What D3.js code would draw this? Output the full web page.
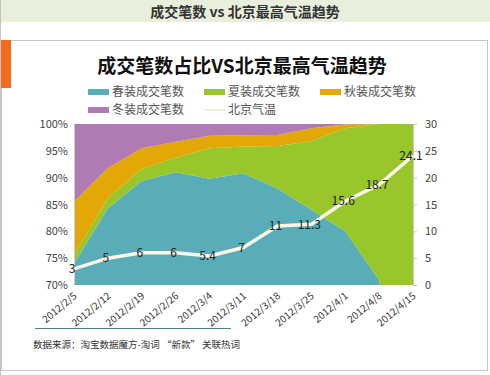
<!DOCTYPE html>
<html>
<head>
<meta charset="utf-8">
<script src="https://cdn.jsdelivr.net/npm/d3@7"></script>
<style>
  body { margin: 0; background: #fff; font-family: "Noto Sans CJK SC", "Noto Sans", sans-serif; }
  svg text { font-family: "Noto Sans CJK SC", "Noto Sans", sans-serif; }
</style>
</head>
<body>
<div id="chart"></div>
<script>
const dates = ['2012/2/5', '2012/2/12', '2012/2/19', '2012/2/26', '2012/3/4', '2012/3/11',
  '2012/3/18', '2012/3/25', '2012/4/1', '2012/4/8', '2012/4/15'];
// share of orders (%)
const spring = [74.0, 84.3, 89.4, 91.0, 89.8, 90.8, 88.0, 84.0, 80.0, 71.0, 30.0];
const summer = [1.5, 1.9, 2.2, 2.7, 5.7, 5.0, 7.9, 12.8, 19.2, 29.0, 70.0];
const autumn = [10.0, 5.6, 3.9, 3.0, 2.3, 2.1, 2.05, 2.4, 0.7, 0, 0];
const winter = [14.5, 8.2, 4.5, 3.3, 2.2, 2.1, 2.05, 0.8, 0.1, 0, 0];
// Beijing max temperature
const temps = [3, 5, 6, 6, 5.4, 7, 11, 11.3, 15.6, 18.7, 24.1];
const seriesNames = ['春装成交笔数', '夏装成交笔数', '秋装成交笔数', '冬装成交笔数'];
const lineName = '北京气温';
const leftTicks = [0.70, 0.75, 0.80, 0.85, 0.90, 0.95, 1.00];
const rightTicks = [0, 5, 10, 15, 20, 25, 30];

const width = 490;
const height = 375;
const margin = { top: 124, right: 77, bottom: 90, left: 74 };
const colors = ['#58adb9', '#99c62a', '#e1a806', '#b07ab5'];

const svg = d3.select('#chart').append('svg')
  .attr('width', width)
  .attr('height', height);

// page frame
svg.append('rect').attr('x', 0).attr('y', 0).attr('width', width).attr('height', 22).attr('fill', '#e8efdc');
svg.append('line').attr('x1', 0.5).attr('x2', 0.5).attr('y1', 0).attr('y2', height).attr('stroke', '#c4c4c4');
svg.append('rect').attr('x', 1.5).attr('y', 40.5).attr('width', 486).attr('height', 330)
  .attr('fill', '#fff').attr('stroke', '#c8c8c8');
svg.append('rect').attr('x', 1).attr('y', 40).attr('width', 10).attr('height', 48).attr('fill', '#f26a1b');

svg.append('text').attr('x', 245).attr('y', 17).attr('text-anchor', 'middle')
  .attr('font-size', 14).attr('font-weight', 'bold').attr('fill', '#333')
  .text('成交笔数 vs 北京最高气温趋势');

svg.append('text').attr('x', 242).attr('y', 73).attr('text-anchor', 'middle')
  .attr('font-size', 19).attr('font-weight', 'bold').attr('fill', '#111')
  .text('成交笔数占比VS北京最高气温趋势');

// legend
const legendItems = seriesNames.map((n, i) => ({ name: n, color: colors[i], type: 'area' }))
  .concat([{ name: lineName, color: '#f3eed6', type: 'line' }]);
const legendPos = [[88, 92], [204, 92], [320, 92], [88, 110], [204, 110]];
const legend = svg.append('g');
legendItems.forEach((d, i) => {
  const g = legend.append('g').attr('transform', `translate(${legendPos[i][0]},${legendPos[i][1]})`);
  if (d.type === 'area') {
    g.append('rect').attr('x', 0).attr('y', -3).attr('width', 21).attr('height', 6).attr('fill', d.color);
  } else {
    g.append('line').attr('x1', 0).attr('x2', 21).attr('y1', 0).attr('y2', 0)
      .attr('stroke', d.color).attr('stroke-width', 2);
  }
  g.append('text').attr('x', 24).attr('y', 0).attr('dy', '0.35em')
    .attr('font-size', 12).attr('fill', '#555').text(d.name);
});

const plotBottom = height - margin.bottom;

const x = d3.scalePoint()
  .domain(dates)
  .range([margin.left, width - margin.right]);

const yLeft = d3.scaleLinear()
  .domain([0.7, 1])
  .range([plotBottom, margin.top]);

const yRight = d3.scaleLinear()
  .domain([0, 30])
  .range([plotBottom, margin.top]);

const rows = dates.map((d, i) => ({
  date: d, s0: spring[i], s1: summer[i], s2: autumn[i], s3: winter[i],
}));
const stack = d3.stack().keys(['s0', 's1', 's2', 's3']).offset(d3.stackOffsetExpand);
const layers = stack(rows);

svg.append('clipPath').attr('id', 'plot-clip')
  .append('rect')
  .attr('x', margin.left).attr('y', margin.top)
  .attr('width', width - margin.right - margin.left)
  .attr('height', plotBottom - margin.top);

const area = d3.area()
  .x(d => x(d.data.date))
  .y0(d => yLeft(d[0]))
  .y1(d => yLeft(d[1]));

svg.append('g')
  .attr('clip-path', 'url(#plot-clip)')
  .selectAll('path')
  .data(layers)
  .enter()
  .append('path')
  .attr('fill', (d, i) => colors[i])
  .attr('d', area);

// axes
const leftAxis = svg.append('g')
  .attr('transform', `translate(${margin.left},0)`)
  .call(d3.axisLeft(yLeft).tickValues(leftTicks).tickFormat(d3.format('.0%')).tickSize(0).tickPadding(6));
leftAxis.select('.domain').attr('stroke', '#d0d0d0');
leftAxis.selectAll('text').attr('font-size', 11).attr('fill', '#444');

const rightAxis = svg.append('g')
  .attr('transform', `translate(${width - margin.right},0)`)
  .call(d3.axisRight(yRight).tickValues(rightTicks).tickSize(4).tickSizeOuter(0).tickPadding(8));
rightAxis.select('.domain').attr('stroke', '#c8c8c8');
rightAxis.selectAll('line').attr('stroke', '#c8c8c8');
rightAxis.selectAll('text').attr('font-size', 11).attr('fill', '#444');

const bottomAxis = svg.append('g')
  .attr('transform', `translate(0,${plotBottom})`)
  .call(d3.axisBottom(x).tickSize(0).tickPadding(0));
bottomAxis.select('.domain').remove();
bottomAxis.selectAll('text')
  .attr('font-size', 10)
  .attr('fill', '#333')
  .attr('text-anchor', 'end')
  .attr('dy', 0)
  .attr('transform', 'translate(3,12) rotate(-40)');

// temperature line
const line = d3.line()
  .x((d, i) => x(dates[i]))
  .y(d => yRight(d));

svg.append('path')
  .datum(temps)
  .attr('fill', 'none')
  .attr('stroke', '#fbf8e6')
  .attr('stroke-width', 3.5)
  .attr('stroke-linejoin', 'round')
  .attr('d', line);

svg.append('g')
  .selectAll('text')
  .data(temps)
  .enter()
  .append('text')
  .attr('x', (d, i) => x(dates[i]))
  .attr('y', d => yRight(d))
  .attr('dx', -2)
  .attr('dy', '0.35em')
  .attr('text-anchor', 'middle')
  .attr('font-size', 12)
  .attr('fill', '#222')
  .text(d => d);

// source note
svg.append('line').attr('x1', 35).attr('x2', 231).attr('y1', 328.5).attr('y2', 328.5)
  .attr('stroke', '#4f7d8c').attr('stroke-width', 1);
svg.append('text').attr('x', 33).attr('y', 348).attr('font-size', 9.5).attr('fill', '#333')
  .text('数据来源：淘宝数据魔方-淘词 “新款” 关联热词');
</script>
</body>
</html>
